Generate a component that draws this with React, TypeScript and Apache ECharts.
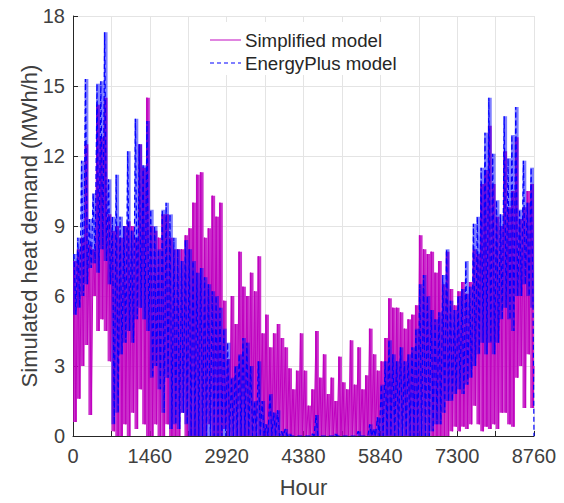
import React, { useEffect, useRef } from 'react';
import * as echarts from 'echarts';

const FONT = '"Liberation Sans", Arial, Helvetica, sans-serif';
const BUCKET_HOURS = 73;
const X_TICKS = [0, 1460, 2920, 4380, 5840, 7300, 8760];
const Y_TICKS = [0, 3, 6, 9, 12, 15, 18];
const LEGEND_NAMES = ['Simplified model', 'EnergyPlus model'];

// Simplified model: per-bucket (73 h) peak and trough
const S_HI = [
  7.5, 8.0, 8.5, 12.5, 8.2, 8.0, 14.2, 12.8, 14.5, 9.5,
  8.8, 9.0, 8.5, 9.0, 9.2, 9.0, 8.5, 12.5, 11.5, 14.5,
  9.0, 8.8, 8.5, 9.5, 9.5, 8.5, 8.0, 8.0, 8.0, 8.6,
  8.9, 10.0, 11.2, 11.3, 8.5, 8.9, 10.3, 9.4, 10.0, 5.8,
  3.3, 6.0, 4.8, 7.9, 6.4, 6.0, 7.0, 6.2, 7.7, 4.4,
  5.2, 3.8, 4.4, 4.8, 4.2, 3.8, 2.9, 2.0, 2.8, 4.4,
  2.8, 1.3, 2.0, 4.5, 2.5, 3.5, 1.8, 2.5, 1.5, 3.4,
  2.3, 2.0, 4.1, 2.2, 3.8, 2.0, 2.6, 4.6, 3.5, 2.8,
  3.2, 4.2, 5.9, 5.5, 5.5, 5.3, 4.6, 5.0, 5.2, 5.6,
  8.6, 8.0, 7.8, 7.9, 7.0, 7.5, 6.5, 7.9, 6.3, 5.6,
  6.2, 6.6, 6.1, 6.6, 8.0, 7.8, 10.8, 11.4, 13.3, 10.8,
  9.4, 9.0, 12.2, 9.8, 10.5, 12.8, 9.3, 9.8, 10.5, 10.8,
];
const S_LO = [
  0.6, 1.6, 3.0, 3.9, 0.9, 6.0, 4.5, 5.0, 4.5, 3.2,
  0.2, 0.0, 0.0, 0.5, 0.0, 1.0, 0.3, 2.0, 0.5, 0.0,
  0.0, 0.5, 0.0, 0.0, 0.5, 0.0, 0.0, 0.0, 1.0, 0.0,
  0.0, 0.0, 0.0, 0.0, 0.0, 0.5, 0.0, 0.0, 0.0, 0.3,
  0.0, 0.0, 0.0, 0.0, 0.0, 0.0, 0.0, 0.0, 0.0, 0.0,
  0.0, 0.0, 0.0, 0.0, 0.0, 0.0, 0.0, 0.0, 0.0, 0.0,
  0.0, 0.0, 0.0, 0.0, 0.0, 0.0, 0.0, 0.0, 0.0, 0.0,
  0.0, 0.0, 0.0, 0.0, 0.0, 0.0, 0.0, 0.0, 0.0, 0.0,
  0.0, 0.0, 0.0, 0.0, 0.0, 0.0, 0.0, 0.0, 0.0, 0.0,
  0.0, 0.0, 0.0, 0.0, 0.0, 0.0, 0.0, 0.0, 0.2, 0.4,
  0.2, 0.4, 0.3, 0.5, 1.3, 0.5, 0.2, 0.4, 0.3, 0.5,
  0.3, 1.0, 1.0, 0.5, 0.4, 2.5, 3.0, 1.2, 3.5, 1.2,
];
const S_END = 3.0;

// EnergyPlus model: per-bucket (73 h) peak and trough
const E_HI = [
  7.8, 8.5, 11.8, 15.3, 9.3, 10.4, 15.1, 15.2, 17.3, 11.0,
  9.4, 11.2, 9.4, 9.0, 12.2, 8.8, 13.6, 12.5, 11.6, 13.5,
  9.7, 9.0, 8.0, 9.7, 10.0, 9.5, 8.5, 8.0, 7.5, 8.4,
  8.0, 7.5, 7.0, 7.2, 6.8, 6.5, 6.2, 6.0, 5.5, 4.6,
  4.0, 2.5, 3.0, 3.5, 4.2, 4.0, 3.0, 1.5, 3.2, 1.5,
  0.5, 1.8, 1.0, 1.1, 0.2, 0.3, 0.1, 0.0, 0.0, 0.0,
  0.0, 0.0, 0.1, 0.9, 0.0, 0.0, 0.0, 0.0, 0.1, 0.0,
  0.0, 0.0, 0.0, 0.0, 0.2, 0.0, 0.0, 0.5, 0.3, 0.8,
  2.2, 3.2, 4.1, 3.5, 3.2, 3.8, 3.2, 3.5, 3.8, 4.6,
  6.5, 6.9, 6.0, 5.4, 5.0, 5.3, 6.9, 8.0, 5.8, 5.4,
  6.0, 6.3, 7.5, 6.4, 9.1, 9.4, 11.5, 13.0, 14.5, 12.1,
  10.1, 9.5, 13.7, 11.9, 12.9, 14.1, 9.7, 11.8, 10.0, 11.5,
];
const E_LO = [
  5.2, 5.5, 6.0, 6.5, 7.2, 7.4, 7.0, 8.0, 7.5, 6.5,
  0.5, 1.0, 3.5, 4.0, 4.5, 4.0, 5.0, 5.5, 5.0, 4.5,
  2.5, 3.0, 2.0, 1.0, 2.5, 0.3, 0.5, 0.3, 1.0, 0.5,
  0.0, 0.0, 0.0, 0.0, 0.0, 0.0, 0.0, 0.0, 0.0, 0.0,
  0.0, 0.0, 0.0, 0.0, 0.0, 0.0, 0.0, 0.0, 0.0, 0.0,
  0.0, 0.0, 0.0, 0.0, 0.0, 0.0, 0.0, 0.0, 0.0, 0.0,
  0.0, 0.0, 0.0, 0.0, 0.0, 0.0, 0.0, 0.0, 0.0, 0.0,
  0.0, 0.0, 0.0, 0.0, 0.0, 0.0, 0.0, 0.0, 0.0, 0.0,
  0.0, 0.0, 0.0, 0.0, 0.0, 0.0, 0.0, 0.0, 0.0, 0.0,
  0.0, 0.0, 0.0, 0.2, 0.5, 0.5, 1.0, 1.5, 1.5, 1.8,
  2.0, 1.8, 2.2, 2.5, 3.0, 3.5, 4.0, 3.5, 4.0, 3.5,
  4.0, 5.0, 5.5, 5.0, 4.5, 6.0, 6.0, 6.5, 6.0, 5.5,
];
const E_END = 0.0;

const MAGENTA = '#bf00bf';
const BLUE = '#0000ff';

// zig-zag trace: peak then trough inside each bucket
function buildTrace(hi: number[], lo: number[], end: number): number[][] {
  const out: number[][] = [];
  hi.forEach((h, i) => {
    out.push([i * BUCKET_HOURS + 18, h]);
    out.push([i * BUCKET_HOURS + 55, lo[i]]);
  });
  out.push([8760, end]);
  return out;
}
// per-bucket range [start hour, end hour, trough, peak]
function buildRange(hi: number[], lo: number[]): number[][] {
  return hi.map((h, i) => [i * BUCKET_HOURS, (i + 1) * BUCKET_HOURS, lo[i], h]);
}

function rangeRenderer(color: string, opacity: number) {
  return (params: any, api: any) => {
    const x0 = api.value(0);
    const x1 = api.value(1);
    const lo = api.value(2);
    const hi = api.value(3);
    if (hi <= lo) return null;
    const pTop = api.coord([x0, hi]);
    const pBot = api.coord([x1, lo]);
    return {
      type: 'rect',
      shape: { x: pTop[0], y: pTop[1], width: pBot[0] - pTop[0], height: pBot[1] - pTop[1] },
      style: { fill: color, opacity },
    };
  };
}

export default function App() {
  const ref = useRef<HTMLDivElement>(null);
  useEffect(() => {
    if (!ref.current) return;
    const chart = echarts.init(ref.current, undefined, { renderer: 'svg' });
    const axisColor = '#262626';
    const labelColor = '#404040';
    chart.setOption({
      animation: false,
      backgroundColor: '#ffffff',
      textStyle: { fontFamily: FONT },
      grid: { left: 73, right: 30, top: 16, bottom: 59, containLabel: false },
      xAxis: {
        type: 'value',
        min: 0,
        max: 8760,
        interval: 730,
        name: 'Hour',
        nameLocation: 'middle',
        nameGap: 40,
        nameMoveOverlap: false,
        nameTextStyle: { fontSize: 22, color: labelColor, fontFamily: FONT },
        axisLine: { show: true, onZero: false, lineStyle: { color: axisColor, width: 1 } },
        axisTick: { show: true, inside: true, length: 5, lineStyle: { color: axisColor } },
        axisLabel: {
          fontSize: 20,
          color: labelColor,
          margin: 10,
          fontFamily: FONT,
          showMinLabel: true,
          showMaxLabel: true,
          formatter: (v: number) => (X_TICKS.includes(v) ? String(v) : ''),
        },
        splitLine: { show: true, lineStyle: { color: '#e4e4e4', width: 1 } },
      },
      yAxis: {
        type: 'value',
        min: 0,
        max: 18,
        interval: 3,
        name: 'Simulated heat demand (MWh/h)',
        nameLocation: 'middle',
        nameGap: 33,
        nameMoveOverlap: false,
        nameTextStyle: { fontSize: 22, color: labelColor, fontFamily: FONT },
        axisLine: { show: true, onZero: false, lineStyle: { color: axisColor, width: 1 } },
        axisTick: { show: true, inside: true, length: 5, lineStyle: { color: axisColor } },
        axisLabel: {
          fontSize: 20,
          color: labelColor,
          margin: 8,
          fontFamily: FONT,
          formatter: (v: number) => (Y_TICKS.includes(v) ? String(v) : ''),
        },
        splitLine: { show: true, lineStyle: { color: '#e4e4e4', width: 1 } },
      },
      graphic: [
        { type: 'rect', z: 100, shape: { x: 200, y: 22, width: 205, height: 53 }, style: { fill: '#ffffff' } },
        { type: 'line', z: 101, shape: { x1: 210, y1: 40, x2: 241, y2: 40 }, style: { stroke: '#cc33cc', lineWidth: 1.2 } },
        { type: 'line', z: 101, shape: { x1: 210, y1: 63, x2: 241, y2: 63 }, style: { stroke: BLUE, lineWidth: 1.2, lineDash: [4, 3] } },
        {
          type: 'text', z: 101, x: 245, y: 40,
          style: { text: LEGEND_NAMES[0], fontSize: 18.7, fontFamily: FONT, fill: '#262626', verticalAlign: 'middle', align: 'left' },
        },
        {
          type: 'text', z: 101, x: 245, y: 63,
          style: { text: LEGEND_NAMES[1], fontSize: 18.7, fontFamily: FONT, fill: '#262626', verticalAlign: 'middle', align: 'left' },
        },
      ],
      series: [
        {
          type: 'custom',
          name: 'sRange',
          data: buildRange(S_HI, S_LO),
          encode: { x: [0, 1], y: [2, 3] },
          renderItem: rangeRenderer(MAGENTA, 0.82),
          z: 1,
          silent: true,
        },
        {
          type: 'line',
          name: LEGEND_NAMES[0],
          data: buildTrace(S_HI, S_LO, S_END),
          symbol: 'none',
          z: 2,
          itemStyle: { color: MAGENTA },
          lineStyle: { color: MAGENTA, width: 1 },
        },
        {
          type: 'custom',
          name: 'eRange',
          data: buildRange(E_HI, E_LO),
          encode: { x: [0, 1], y: [2, 3] },
          renderItem: rangeRenderer(BLUE, 0.5),
          z: 3,
          silent: true,
        },
        {
          type: 'line',
          name: LEGEND_NAMES[1],
          data: buildTrace(E_HI, E_LO, E_END),
          symbol: 'none',
          z: 4,
          itemStyle: { color: BLUE },
          lineStyle: { color: BLUE, width: 1.2, type: [5, 3] },
        },
      ],
    });
    return () => chart.dispose();
  }, []);
  return (
    <div
      ref={ref}
      style={{ position: 'fixed', left: 0, top: 0, width: 564, height: 503, background: '#fff' }}
    />
  );
}
